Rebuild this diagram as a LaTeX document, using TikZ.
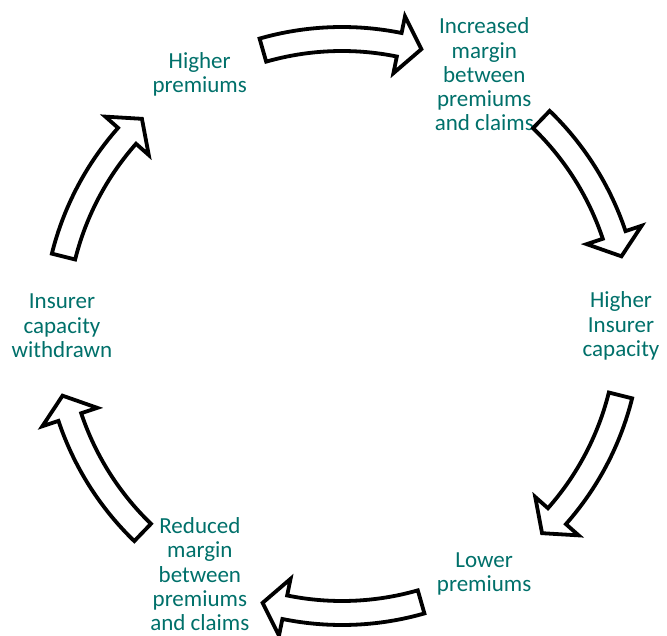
\documentclass[tikz,border=0pt]{standalone}
\usepackage{fontspec}
\setmainfont{Carlito}
\usepackage{xcolor}
\definecolor{cycteal}{RGB}{0,112,106}

\begin{document}
\begin{tikzpicture}[x=1pt,y=1pt,%
		   stage/.style={text=cycteal,align=center,font=\fontsize{23}{24.3}\selectfont,inner sep=0pt},
		   blockarrow/.style={draw=black,fill=white,line width=3.8pt}]

	\useasboundingbox (-342,-309) rectangle (325,326);
	\coordinate (hub) at (0,0);

	    \foreach \ang/\rad/\txt [count=\i] in {%
		    119.5/289/{Higher\\premiums},%
		    60.5/289/{Increased\\margin\\between\\premiums\\and claims},%
		    0/279/{Higher\\Insurer\\capacity},%
		    -60.2/286/{Lower\\premiums},%
		    -119.8/286/{Reduced\\margin\\between\\premiums\\and claims},%
		    180/280/{Insurer\\capacity\\withdrawn}%
	       } { \node[stage](s-\i) at ([shift={(\ang:\rad)}]hub) {\txt};
	       }

	    \foreach \mid in {90,30,-30,-90,-150,150} {
		   \pgfmathsetmacro\tail{\mid+16}% tail end, clockwise
		   \pgfmathsetmacro\tip{\mid-16}
		   \pgfmathsetmacro\base{\mid-11.5}
		   \draw[blockarrow,shift={(hub)}] (\tail:299) arc[start angle=\tail,end angle=\base,radius=299]
		        -- (\base:316) -- (\tip:288) -- (\base:258) -- (\base:275)
		        arc[start angle=\base,end angle=\tail,radius=275] -- cycle;
	       }
\end{tikzpicture}
\end{document}
